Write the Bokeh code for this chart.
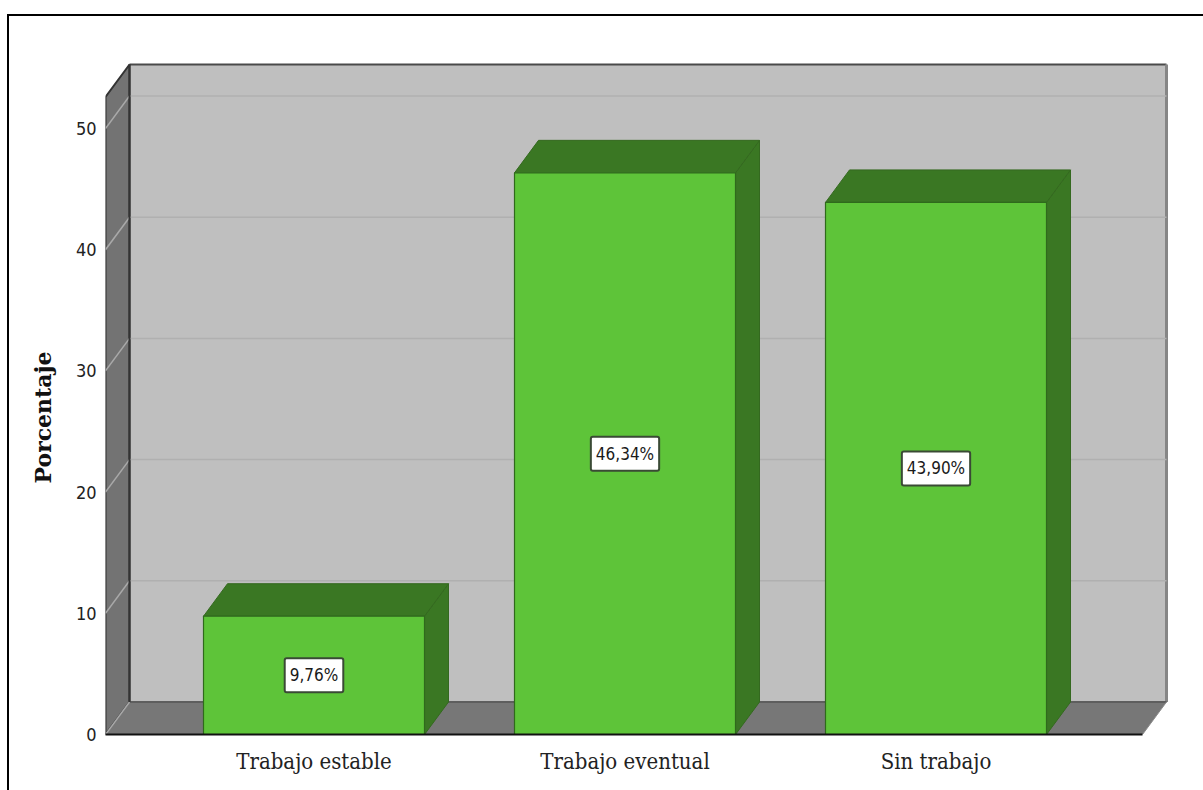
from bokeh.embed import file_html
from bokeh.models import FixedTicker, Label, Range1d, Title
from bokeh.plotting import figure
from bokeh.resources import INLINE

categories = ["Trabajo estable", "Trabajo eventual", "Sin trabajo"]
percentages = [9.76, 46.34, 43.90]
value_labels = ["9,76%", "46,34%", "43,90%"]
y_ticks = [0, 10, 20, 30, 40, 50]
y_title = "Porcentaje"

# Scale of the drawing: pixels per category slot and per percentage point
PX_X = 311.0
PX_Y = 12.12
LEFT, BOTTOM, WIDTH, HEIGHT = 105, 56, 1203, 790

# Box geometry, in axis units
BAR_W = 221 / PX_X
DX = 24 / PX_X
DY = 32.5 / PX_Y
BOX_X0 = -208.5 / PX_X
BOX_X1 = 2 + 206.5 / PX_X
BOX_TOP = 52.6

x_start = BOX_X0
x_end = x_start + (WIDTH - LEFT) / PX_X
y_end = (HEIGHT - BOTTOM) / PX_Y

# The frame around the chart is painted behind the transparent canvas
page_frame = {
    "background-color": "white",
    "background-image": "linear-gradient(#000,#000), linear-gradient(#000,#000)",
    "background-size": "2px 776px, 1196px 2px",
    "background-position": "7px 14px, 7px 14px",
    "background-repeat": "no-repeat",
}

p = figure(
    width=WIDTH, height=HEIGHT, output_backend="svg", toolbar_location=None,
    x_range=Range1d(x_start, x_end), y_range=Range1d(0, y_end),
    min_border_left=LEFT, min_border_right=0, min_border_top=0, min_border_bottom=BOTTOM,
    background_fill_color=None, border_fill_color=None, styles=page_frame,
)
p.outline_line_color = None
p.grid.visible = False

# Back wall, side wall and floor of the chart box
p.patch([BOX_X0 + DX, BOX_X1 + DX, BOX_X1 + DX, BOX_X0 + DX],
        [DY, DY, BOX_TOP + DY, BOX_TOP + DY],
        fill_color="#bfbfbf", line_color=None)
p.line([BOX_X0 + DX, BOX_X1 + DX], [BOX_TOP + DY] * 2, line_color="#4a4a4a", line_width=2)
p.line([BOX_X1 + DX] * 2, [DY, BOX_TOP + DY], line_color="#868686", line_width=3)
p.patch([BOX_X0, BOX_X0 + DX, BOX_X0 + DX, BOX_X0],
        [0, DY, BOX_TOP + DY, BOX_TOP],
        fill_color="#737373", line_color="#333333", line_width=2)
p.patch([BOX_X0, BOX_X1, BOX_X1 + DX, BOX_X0 + DX],
        [0, 0, DY, DY],
        fill_color="#777777", line_color=None)
p.line([BOX_X0 + DX, BOX_X1 + DX], [DY, DY], line_color="#5e5e5e", line_width=2)
p.line([BOX_X1, BOX_X1 + DX], [0, DY], line_color="#8a8a8a", line_width=1)

# Gridlines run across the side wall and along the back wall
for tick in y_ticks:
    p.line([BOX_X0, BOX_X0 + DX], [tick, tick + DY], line_color="#a9a9a9", line_width=1.5)
    if tick > 0:
        p.line([BOX_X0 + DX, BOX_X1 + DX], [tick + DY] * 2, line_color="#b0b0b0", line_width=1.5)

p.line([BOX_X0 + DX] * 2, [DY, BOX_TOP + DY], line_color="#333333", line_width=2)

# Extruded bars: right face, top face, then the front
GREEN = "#5ec439"
GREEN_DARK = "#3a7723"
EDGE = "#2f6a1c"
for i, v in enumerate(percentages):
    l, r = i - BAR_W / 2, i + BAR_W / 2
    p.patch([r, r + DX, r + DX, r], [0, DY, v + DY, v],
            fill_color=GREEN_DARK, line_color="#34691f", line_width=1)
    p.patch([l, r, r + DX, l + DX], [v, v, v + DY, v + DY],
            fill_color=GREEN_DARK, line_color="#34691f", line_width=1)
    p.quad(left=l, right=r, bottom=0, top=v,
           fill_color=GREEN, line_color=EDGE, line_width=1.2)

# Value boxes centred on each bar
for i, (v, txt) in enumerate(zip(percentages, value_labels)):
    p.add_layout(Label(
        x=i, y=v / 2, text=txt,
        text_align="center", text_baseline="middle",
        text_font="DejaVu Sans Condensed", text_font_size="17px",
        text_color="#1a1a1a",
        background_fill_color="white", border_line_color="#3a4a35", border_line_width=2,
        padding=(5, 7), border_radius=2,
    ))

# Axes
p.xaxis.ticker = FixedTicker(ticks=list(range(len(categories))))
p.xaxis.major_label_overrides = {i: c for i, c in enumerate(categories)}
p.xaxis.bounds = (BOX_X0, BOX_X1)
p.xaxis.axis_line_color = "#111111"
p.xaxis.axis_line_width = 2
p.xaxis.major_tick_line_color = None
p.xaxis.minor_tick_line_color = None
p.xaxis.major_label_text_font = "DejaVu Serif Condensed"
p.xaxis.major_label_text_font_size = "22px"
p.xaxis.major_label_text_color = "#222222"
p.xaxis.major_label_standoff = 8

p.yaxis.ticker = FixedTicker(ticks=y_ticks)
p.yaxis.axis_line_color = None
p.yaxis.major_tick_line_color = None
p.yaxis.minor_tick_line_color = None
p.yaxis.major_label_text_font = "DejaVu Sans Condensed"
p.yaxis.major_label_text_font_size = "18px"
p.yaxis.major_label_text_color = "#222222"
p.yaxis.major_label_standoff = 3

# Title of the value axis, set in the panel left of the tick labels
p.add_layout(Title(
    text=y_title, align="left", offset=251, standoff=33,
    text_font="DejaVu Serif", text_font_style="bold",
    text_font_size="22px", text_color="#111111",
), "left")

open("out.html", "w").write(file_html(p, INLINE))
